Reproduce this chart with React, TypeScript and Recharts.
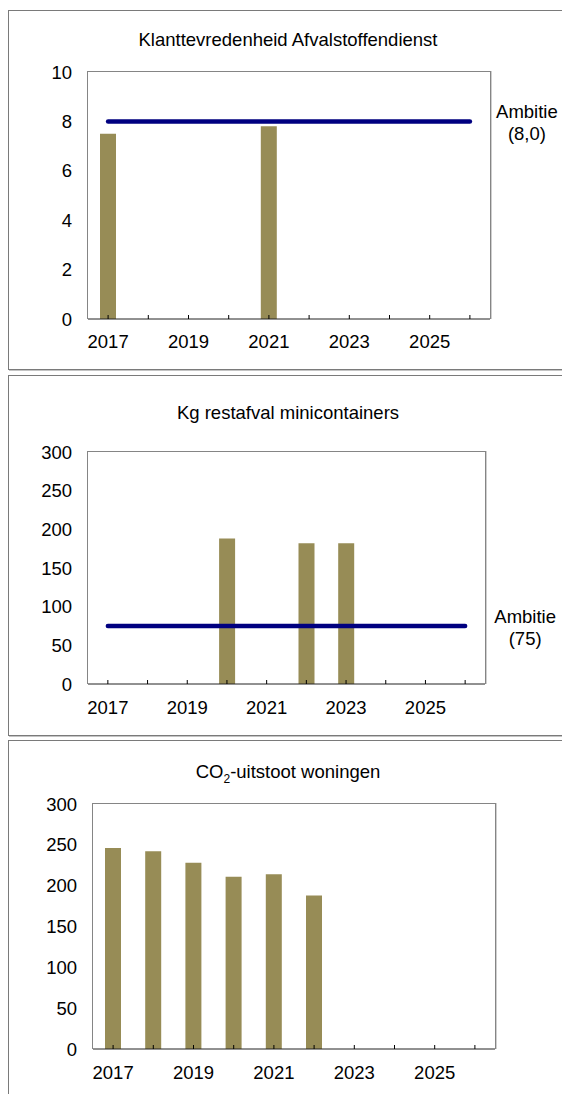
import { ComposedChart, Bar, Line, XAxis, YAxis } from 'recharts'

const years = ['2017', '2018', '2019', '2020', '2021', '2022', '2023', '2024', '2025', '2026']

const tevredenheid = [7.5, null, null, null, 7.8, null, null, null, null, null]
const tevredenheidAmbitie = [8, 8, 8, 8, 8, 8, 8, 8, 8, 8]
const tevredenheidTicks = [0, 2, 4, 6, 8, 10]

const restafval = [null, null, null, 188, null, 182, 182, null, null, null]
const restafvalAmbitie = [75, 75, 75, 75, 75, 75, 75, 75, 75, 75]

const co2 = [246, 242, 228, 211, 214, 188, null, null, null, null]

const kgTicks = [0, 50, 100, 150, 200, 250, 300]

const FONT = '"Liberation Sans", Arial, sans-serif'
const FS = 18.5
const BAR = '#978C56'
const NAVY = '#000080'
const FRAME = '#858585'

type Layout = {
  panelTop: number
  panelHeight: number
  titleTop: number
  plotLeft: number
  plotRight: number
  plotTop: number
  plotBottom: number
  labelGap: number
  ambitieDx: number
}

const makeTick = (gap: number) => (props: any) => {
  const { x, y, payload, index } = props
  return (
    <g>
      <line x1={x} x2={x} y1={y - gap} y2={y - gap - 4} stroke="#000" strokeWidth={1} />
      {index % 2 === 0 && (
        <text x={x} y={y} dy="0.71em" textAnchor="middle" fill="#000" fontSize={FS} fontFamily={FONT}>
          {payload.value}
        </text>
      )}
    </g>
  )
}

const makeAmbitieLabel = (text: string, dx: number) => (props: any) => {
  const { x, y, index } = props
  if (index !== years.length - 1) return null
  return (
    <text x={x + dx} y={y - 3.5} textAnchor="middle" fill="#000" fontSize={FS} fontFamily={FONT}>
      <tspan x={x + dx}>Ambitie</tspan>
      <tspan x={x + dx} dy={22.5}>{text}</tspan>
    </text>
  )
}

function Panel({
  layout,
  title,
  values,
  ambitie,
  ambitieText,
  ticks,
}: {
  layout: Layout
  title: React.ReactNode
  values: (number | null)[]
  ambitie?: number[]
  ambitieText?: string
  ticks: number[]
}) {
  const data = years.map((year, i) => ({
    year,
    value: values[i],
    ambitie: ambitie ? ambitie[i] : null,
  }))
  const h = layout.plotBottom - layout.panelTop + 50
  return (
    <>
      <div
        style={{
          position: 'absolute',
          left: 8,
          top: layout.panelTop,
          width: 620,
          height: layout.panelHeight,
          border: '1px solid #7a7a7a',
          boxShadow: '1px 1px 0 #c4c4c4',
          boxSizing: 'border-box',
        }}
      />
      <div
        style={{
          position: 'absolute',
          left: 8,
          width: 560,
          top: layout.titleTop,
          textAlign: 'center',
          fontFamily: FONT,
          fontSize: FS,
          lineHeight: '20px',
          color: '#000',
        }}
      >
        {title}
      </div>
      {/* plot frame */}
      <div
        style={{
          position: 'absolute',
          left: layout.plotLeft - 1,
          top: layout.plotTop - 1,
          width: layout.plotRight - layout.plotLeft + 2,
          height: layout.plotBottom - layout.plotTop + 1,
          border: `1px solid ${FRAME}`,
          borderBottom: 'none',
          boxShadow: '1px 0 0 #cfcfcf',
          boxSizing: 'border-box',
        }}
      />
      <div style={{ position: 'absolute', left: 0, top: layout.panelTop }}>
        <ComposedChart
          width={562}
          height={h}
          data={data}
          margin={{ top: layout.plotTop - layout.panelTop, right: 562 - layout.plotRight, bottom: 10, left: 0 }}
        >
          <YAxis
            width={layout.plotLeft}
            domain={[ticks[0], ticks[ticks.length - 1]]}
            ticks={ticks}
            interval={0}
            tickLine={false}
            tickSize={0}
            tickMargin={16}
            axisLine={false}
            tick={{ fill: '#000', fontSize: FS, fontFamily: FONT }}
          />
          <Bar dataKey="value" fill={BAR} barSize={16} isAnimationActive={false} />
          {ambitie && (
            <Line
              dataKey="ambitie"
              stroke={NAVY}
              strokeWidth={4.5}
              strokeLinecap="round"
              dot={false}
              activeDot={false}
              isAnimationActive={false}
              label={makeAmbitieLabel(ambitieText || '', layout.ambitieDx)}
            />
          )}
          <XAxis
            dataKey="year"
            height={40}
            interval={0}
            tickLine={false}
            tickSize={0}
            tickMargin={layout.labelGap}
            axisLine={{ stroke: '#222' }}
            tick={makeTick(layout.labelGap)}
          />
        </ComposedChart>
      </div>
    </>
  )
}

export default function App() {
  return (
    <div
      style={{
        position: 'fixed',
        left: 0,
        top: 0,
        width: 562,
        height: 1094,
        overflow: 'hidden',
        background: '#fff',
      }}
    >
      <Panel
        layout={{
          panelTop: 10,
          panelHeight: 360,
          titleTop: 30,
          plotLeft: 88,
          plotRight: 490,
          plotTop: 72,
          plotBottom: 319,
          labelGap: 16,
          ambitieDx: 57,
        }}
        title="Klanttevredenheid Afvalstoffendienst"
        values={tevredenheid}
        ambitie={tevredenheidAmbitie}
        ambitieText="(8,0)"
        ticks={tevredenheidTicks}
      />
      <Panel
        layout={{
          panelTop: 375,
          panelHeight: 361,
          titleTop: 403,
          plotLeft: 88,
          plotRight: 485,
          plotTop: 452,
          plotBottom: 684,
          labelGap: 17,
          ambitieDx: 60,
        }}
        title="Kg restafval minicontainers"
        values={restafval}
        ambitie={restafvalAmbitie}
        ambitieText="(75)"
        ticks={kgTicks}
      />
      <Panel
        layout={{
          panelTop: 740,
          panelHeight: 420,
          titleTop: 762,
          plotLeft: 93,
          plotRight: 495,
          plotTop: 804,
          plotBottom: 1049,
          labelGap: 17,
          ambitieDx: 0,
        }}
        title={
          <>
            CO<sub style={{ fontSize: '0.65em', lineHeight: 0 }}>2</sub>-uitstoot woningen
          </>
        }
        values={co2}
        ticks={kgTicks}
      />
    </div>
  )
}
